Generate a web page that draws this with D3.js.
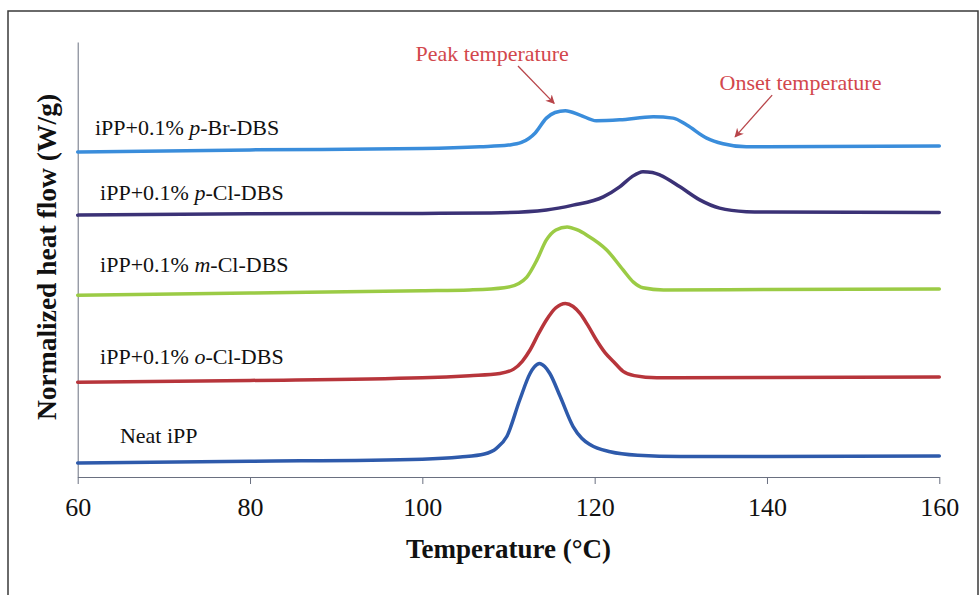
<!DOCTYPE html>
<html>
<head>
<meta charset="utf-8">
<script src="https://cdn.jsdelivr.net/npm/d3@7"></script>
<style>
  body { margin: 0; background: #fff; }
  text { font-family: "Liberation Serif", "Times New Roman", serif; }
</style>
</head>
<body>
<div id="chart"></div>
<script>
// x axis ticks (°C)
const xTicks = [60, 80, 100, 120, 140, 160];

// DSC cooling curves, [temperature °C, normalized heat flow (offset, a.u.)]
const neatIPP = [[60, 3.2], [80, 3.6], [100, 4.1], [104.4, 4.6], [107.2, 5.3], [108.6, 6.6], [109.8, 9.3],
  [111.3, 17.7], [112.5, 23.8], [113.0, 25.3], [113.6, 26.1], [114.2, 25.4], [114.8, 23.8], [116, 18.5],
  [117.5, 11.6], [118.5, 8.9], [119.5, 7.4], [121.8, 5.8], [125, 5.0], [130, 4.7], [140, 4.7], [160, 4.8]];
const oClDBS = [[60, 21.8], [80, 22.2], [100, 22.8], [105.5, 23.3], [109, 23.8], [110.6, 24.8], [111.6, 26.6],
  [112.5, 29.2], [113.5, 33.0], [114.4, 36.1], [115.5, 38.9], [116.6, 39.9], [117.5, 39.2], [118.3, 37.6],
  [119.2, 34.9], [120.2, 31.5], [121.2, 28.6], [122.2, 26.5], [123.3, 24.3], [124.6, 23.3], [127.2, 22.8],
  [140, 22.9], [160, 23.0]];
const mClDBS = [[60, 41.8], [80, 42.3], [100, 42.8], [105.5, 43.0], [109.5, 43.5], [111.2, 44.5], [112.1, 45.9],
  [113.3, 49.9], [114.4, 54.5], [115.5, 56.8], [116.8, 57.5], [118, 56.8], [119.1, 55.6], [121.4, 52.2],
  [123.3, 47.6], [124.5, 44.8], [125.6, 43.5], [128, 43.0], [140, 43.1], [160, 43.2]];
const pClDBS = [[60, 60.2], [80, 60.5], [100, 60.6], [108, 60.7], [114.4, 61.4], [117.5, 62.5], [121, 64.4],
  [122.9, 66.7], [124.3, 69.0], [125.6, 70.2], [126.7, 70.0], [127.6, 69.4], [129.9, 66.7], [132.2, 63.7],
  [134.5, 61.8], [137.6, 61.0], [140, 60.9], [160, 60.8]];
const pBrDBS = [[60, 74.7], [80, 75.2], [100, 75.5], [106.7, 75.9], [110, 76.3], [111.5, 76.9], [113.1, 79.1],
  [114.4, 82.5], [115.4, 83.8], [116.6, 84.2], [118.3, 83.2], [120.2, 81.9], [122.9, 82.1], [126.8, 82.8],
  [129.1, 82.5], [130.7, 80.9], [133, 77.9], [134.9, 76.6], [137.6, 75.9], [140, 75.9], [160, 76.1]];

const width = 980, height = 595;

const series = [
  { data: pBrDBS, color: '#3a8ddb', pre: 'iPP+0.1% ', it: 'p', post: '-Br-DBS', lx: 62.0, ly: 78.6 },
  { data: pClDBS, color: '#3b3276', pre: 'iPP+0.1% ', it: 'p', post: '-Cl-DBS', lx: 62.6, ly: 63.7 },
  { data: mClDBS, color: '#9bcb45', pre: 'iPP+0.1% ', it: 'm', post: '-Cl-DBS', lx: 62.6, ly: 47.1 },
  { data: oClDBS, color: '#b7353b', pre: 'iPP+0.1% ', it: 'o', post: '-Cl-DBS', lx: 62.6, ly: 26.0 },
  { data: neatIPP, color: '#2e5aab', pre: 'Neat iPP', it: '', post: '', lx: 64.9, ly: 7.8 }
];

const svg = d3.select('#chart').append('svg')
  .attr('width', width)
  .attr('height', height)
  .style('background', '#fff');

// outer frame
svg.append('rect')
  .attr('x', 8).attr('y', 11)
  .attr('width', 970).attr('height', 600)
  .attr('fill', 'none')
  .attr('stroke', '#3a3a3a')
  .attr('stroke-width', 1.5);

const x = d3.scaleLinear().domain([60, 160]).range([77.7, 939.3]);
const y = d3.scaleLinear().domain([0, 100]).range([477, 42]);

// y axis (no ticks)
svg.append('g')
  .attr('transform', `translate(${x(60)},0)`)
  .call(d3.axisLeft(y).tickValues([]).tickSizeOuter(0))
  .select('.domain').attr('stroke', '#6a7080').attr('stroke-width', 1);

// x axis
const xAxis = svg.append('g')
  .attr('transform', `translate(0,${y(0)})`)
  .call(d3.axisBottom(x).tickValues(xTicks).tickSize(7).tickSizeOuter(0).tickPadding(14));
xAxis.select('.domain').attr('stroke', '#6a7080').attr('stroke-width', 1);
xAxis.selectAll('.tick line').attr('stroke', '#6a7080');
xAxis.selectAll('.tick text')
  .attr('fill', '#111')
  .style('font-family', '"Liberation Serif", serif')
  .style('font-size', '26px');

// axis titles
svg.append('text')
  .attr('x', x(110)).attr('y', 558)
  .attr('text-anchor', 'middle')
  .style('font-size', '27px').style('font-weight', 'bold')
  .attr('fill', '#111')
  .text('Temperature (°C)');

svg.append('text')
  .attr('transform', 'translate(56,257) rotate(-90)')
  .attr('text-anchor', 'middle')
  .style('font-size', '27.5px').style('font-weight', 'bold')
  .attr('fill', '#111')
  .text('Normalized heat flow (W/g)');

// curves
const line = d3.line()
  .x(d => x(d[0]))
  .y(d => y(d[1]))
  .curve(d3.curveMonotoneX);

svg.append('g').selectAll('path')
  .data(series)
  .enter()
  .append('path')
  .attr('d', d => line(d.data))
  .attr('fill', 'none')
  .attr('stroke', d => d.color)
  .attr('stroke-width', 3.5)
  .attr('stroke-linecap', 'round')
  .attr('stroke-linejoin', 'round');

// curve labels
const labels = svg.append('g').selectAll('text')
  .data(series)
  .enter()
  .append('text')
  .attr('x', d => x(d.lx))
  .attr('y', d => y(d.ly))
  .style('font-size', '22px')
  .attr('fill', '#111');
labels.append('tspan').text(d => d.pre);
labels.append('tspan').style('font-style', 'italic').text(d => d.it);
labels.append('tspan').text(d => d.post);

// annotations
const annColor = '#d2474c';
svg.append('defs').append('marker')
  .attr('id', 'arrow')
  .attr('viewBox', '0 0 10 10')
  .attr('refX', 9).attr('refY', 5)
  .attr('markerWidth', 9).attr('markerHeight', 9)
  .attr('markerUnits', 'userSpaceOnUse')
  .attr('orient', 'auto')
  .append('path')
  .attr('d', 'M0,0 L10,5 L0,10 L3,5 Z')
  .attr('fill', '#b8454a');

const annotations = [
  { text: 'Peak temperature', tx: 99.2, ty: 95.6, from: [111.1, 94.5], to: [115.3, 85.9] },
  { text: 'Onset temperature', tx: 134.5, ty: 89.0, from: [140.6, 87.8], to: [136.3, 78.2] }
];

annotations.forEach(a => {
  svg.append('text')
    .attr('x', x(a.tx)).attr('y', y(a.ty))
    .style('font-size', '22px')
    .attr('fill', annColor)
    .text(a.text);
  svg.append('line')
    .attr('x1', x(a.from[0])).attr('y1', y(a.from[1]))
    .attr('x2', x(a.to[0])).attr('y2', y(a.to[1]))
    .attr('stroke', '#b8454a')
    .attr('stroke-width', 1.3)
    .attr('marker-end', 'url(#arrow)');
});
</script>
</body>
</html>
